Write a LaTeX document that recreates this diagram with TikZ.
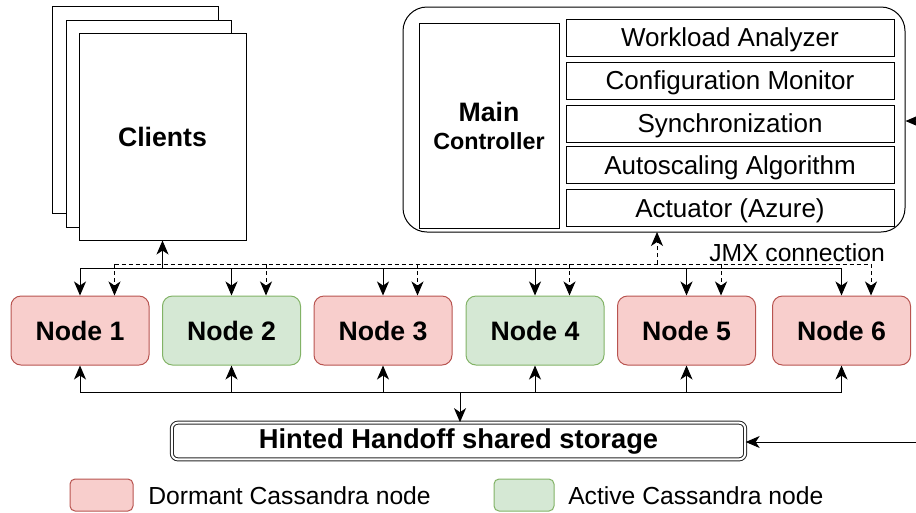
\documentclass[tikz,border=0pt]{standalone}
\usepackage{fontspec}
\setmainfont{Liberation Sans}
\usetikzlibrary{arrows.meta}
\definecolor{redfill}{HTML}{F8CECC}
\definecolor{redline}{HTML}{B85450}
\definecolor{greenfill}{HTML}{D5E8D4}
\definecolor{greenline}{HTML}{82B366}
\tikzset{
  base/.style={line width=0.75pt, draw=black},
  page/.style={base, fill=white, inner sep=0pt},
  cnode/.style={line width=0.75pt, rounded corners=7.5pt, minimum width=103.5pt, minimum height=51.75pt, inner sep=0pt, font=\fontsize{20}{24}\selectfont\bfseries},
  dormant/.style={cnode, fill=redfill, draw=redline},
  active/.style={cnode, fill=greenfill, draw=greenline},
  subbox/.style={base, minimum width=246pt, minimum height=27.75pt, inner sep=0pt, text depth=0pt, font=\fontsize{19.5}{23}\selectfont},
  arr/.style={line width=0.75pt, -{Stealth[length=10.5pt,width=9pt,inset=3pt]}},
  darr/.style={arr, dash pattern=on 3pt off 2.25pt},
  dline/.style={line width=0.75pt, dash pattern=on 3pt off 2.25pt},
  legtext/.style={anchor=west, inner sep=0pt, font=\fontsize{18.5}{22}\selectfont},
}
\begin{document}
\begin{tikzpicture}[x=0.75pt,y=-0.75pt]
\useasboundingbox (0,0) rectangle (916,512);
% Clients stack
\draw[page] (52,6) rectangle (218,213);
\draw[page] (66,20) rectangle (231,227);
\node[page, minimum width=125.25pt, minimum height=155.25pt, font=\fontsize{20}{24}\selectfont\bfseries] (cl) at (162.5,136.5) {Clients};
% Main controller
\node[base, rounded corners=18pt, minimum width=376.5pt, minimum height=168.75pt, inner sep=0pt] (mc) at (654,119.5) {};
\node[base, minimum width=105pt, minimum height=153.75pt, inner sep=0pt, align=center] (main) at (489,126)
  {{\fontsize{20}{20}\selectfont\bfseries Main}\\[7pt]{\fontsize{17.5}{20}\selectfont\bfseries Controller}};
\node[subbox] (wa) at (730,37.5) {Workload Analyzer};
\node[subbox] (cm) at (730,80.5) {Configuration Monitor};
\node[subbox] (sy) at (730,123.5) {Synchronization};
\node[subbox] (as) at (730,165) {Autoscaling Algorithm};
\node[subbox] (ac) at (730,208) {Actuator (Azure)};
% Cassandra nodes
\node[dormant] (n1) at (80,330.5) {Node 1};
\node[active]  (n2) at (231.5,330.5) {Node 2};
\node[dormant] (n3) at (383,330.5) {Node 3};
\node[active]  (n4) at (535,330.5) {Node 4};
\node[dormant] (n5) at (686.5,330.5) {Node 5};
\node[dormant] (n6) at (841.5,330.5) {Node 6};
% Hinted handoff storage
\node[draw=black!85, line width=0.75pt, double, double distance=1.5pt, rounded corners=4.5pt, minimum width=430pt, minimum height=27.5pt, inner sep=0pt, font=\fontsize{20.5}{24}\selectfont\bfseries] (hh) at (458.5,441) {Hinted Handoff shared storage};
% coordinates
\coordinate (sbus) at (0,268);
\coordinate (dbus) at (0,264);
\coordinate (bbus) at (0,392);
\coordinate (mcin) at (657,232);
\coordinate (rin1) at (916,121);
\coordinate (rin2) at (916,442);
% solid bus to clients and nodes
\draw[line width=0.75pt] (n1.north |- sbus) -- (n6.north |- sbus);
\draw[arr] (cl.south |- sbus) -- (cl.south);
\foreach \n in {n1,n2,n3,n4,n5,n6} {\draw[arr] (\n.north |- sbus) -- (\n.north);}
% dashed JMX bus
\draw[dline] ([xshift=34.5*0.75pt]n1.north |- dbus) -- ([xshift=29.5*0.75pt]n6.north |- dbus);
\draw[darr] (mcin |- dbus) -- (mcin);
\foreach \n in {n1,n2,n3,n4,n5} {\draw[darr] ([xshift=34.5*0.75pt]\n.north |- dbus) -- ([xshift=34.5*0.75pt]\n.north);}
\draw[darr] ([xshift=29.5*0.75pt]n6.north |- dbus) -- ([xshift=29.5*0.75pt]n6.north);
\node[inner sep=0pt, font=\fontsize{18.5}{22}\selectfont] (jmx) at (797,253) {JMX connection};
% bottom bus
\draw[line width=0.75pt] (n1.south |- bbus) -- (n6.south |- bbus);
\foreach \n in {n1,n2,n3,n4,n5,n6} {\draw[arr] (\n.south |- bbus) -- (\n.south);}
\draw[arr] ([xshift=1.5*0.75pt]hh.north |- bbus) -- ([xshift=1.5*0.75pt]hh.north);
% inputs from the right
\draw[arr] (rin1) -- (mc.east |- rin1);
\draw[arr] (rin2) -- (hh.east |- rin2);
% legend
\node[line width=0.75pt, fill=redfill, draw=redline, rounded corners=3.75pt, minimum width=47.25pt, minimum height=24pt, inner sep=0pt] (lr) at (101.5,495) {};
\node[legtext] (lrt) at (148,496) {Dormant Cassandra node};
\node[line width=0.75pt, fill=greenfill, draw=greenline, rounded corners=3.75pt, minimum width=45pt, minimum height=24pt, inner sep=0pt] (lg) at (524,495) {};
\node[legtext] (lgt) at (568,496) {Active Cassandra node};
\end{tikzpicture}
\end{document}
